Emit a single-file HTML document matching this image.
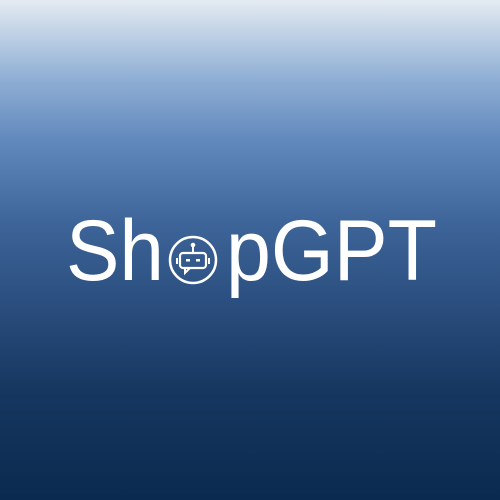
<!DOCTYPE html>
<html><head><meta charset="utf-8"><style>
html,body{margin:0;padding:0}
body{width:500px;height:500px;overflow:hidden;background:linear-gradient(to bottom,#e4ebf2 0%,#8eaed4 16%,#6289bd 28%,#3d6498 45%,#2b4f80 60%,#163760 78%,#0b2a4f 100%)}
svg{position:absolute;left:0;top:0}
</style></head><body>
<svg width="500" height="500">
<text x="66" y="280" font-family="Liberation Sans, sans-serif" font-size="86" fill="#fff" textLength="98" lengthAdjust="spacingAndGlyphs">Sh</text>
<g fill="none" stroke="#fff">
<circle cx="193" cy="260" r="23" stroke-width="2.5"/>
<rect x="180" y="253" width="26" height="15" rx="3" stroke-width="2.2"/>
<line x1="193" y1="253" x2="193" y2="246" stroke-width="2"/>
<circle cx="193" cy="245" r="1.8" fill="#fff"/>
<line x1="177" y1="258" x2="177" y2="264" stroke-width="2"/>
<line x1="209" y1="258" x2="209" y2="264" stroke-width="2"/>
<path d="M185 268 L185 273 L190 268" stroke-width="2"/>
<rect x="186" y="259" width="4" height="2.5" fill="#fff" stroke="none"/>
<rect x="196" y="259" width="4" height="2.5" fill="#fff" stroke="none"/>
</g>
<text x="226" y="280" font-family="Liberation Sans, sans-serif" font-size="86" fill="#fff" textLength="211" lengthAdjust="spacingAndGlyphs">pGPT</text>
</svg>
</body></html>
